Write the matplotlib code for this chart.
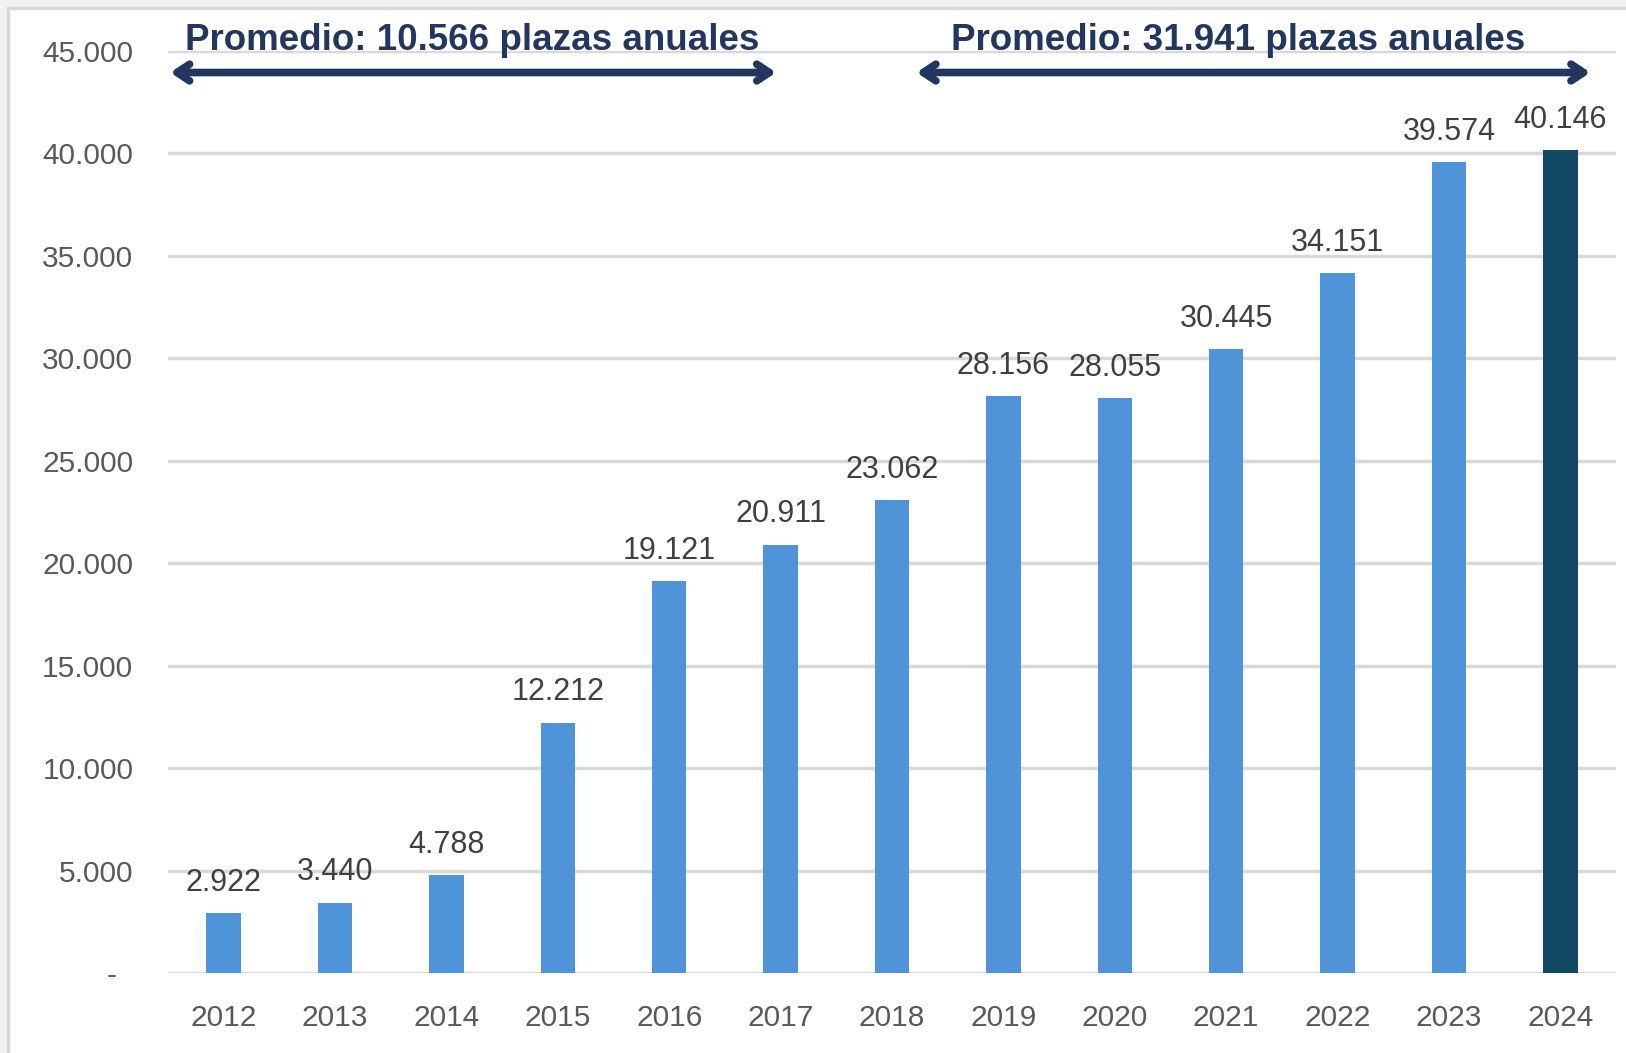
import numpy as np
import matplotlib.pyplot as plt
from matplotlib.patches import Rectangle

plt.rcParams['font.family'] = ['Liberation Sans', 'DejaVu Sans']

# datos
anios = ['2012', '2013', '2014', '2015', '2016', '2017', '2018',
         '2019', '2020', '2021', '2022', '2023', '2024']
plazas = [2922, 3440, 4788, 12212, 19121, 20911, 23062,
          28156, 28055, 30445, 34151, 39574, 40146]
etiquetas = ['2.922', '3.440', '4.788', '12.212', '19.121', '20.911', '23.062',
             '28.156', '28.055', '30.445', '34.151', '39.574', '40.146']
y_ticks = [0, 5000, 10000, 15000, 20000, 25000, 30000, 35000, 40000, 45000]
y_labels = ['-  ', '5.000', '10.000', '15.000', '20.000', '25.000',
            '30.000', '35.000', '40.000', '45.000']
promedios = ['Promedio: 10.566 plazas anuales', 'Promedio: 31.941 plazas anuales']

azul = '#4f94d8'
oscuro = '#124862'
navy = '#22375f'

fig = plt.figure(figsize=(16.26, 10.53), dpi=100)
fig.patch.set_facecolor('#f2f2f2')
# panel blanco con borde
fig.patches.append(Rectangle((8 / 1626, -0.1), 1.2, 1 - 8 / 1053 + 0.1,
                             transform=fig.transFigure, facecolor='white',
                             edgecolor='#d9d9d9', linewidth=2.5, zorder=-5))

ax = fig.add_axes([168 / 1626, 1 - 973 / 1053, (1616 - 168) / 1626, (973 - 51) / 1053])
ax.set_facecolor('none')
ax.set_zorder(2)

x = np.arange(len(anios))
colores = [azul] * (len(anios) - 1) + [oscuro]
ax.bar(x, plazas, width=0.31, color=colores, zorder=3)

for xi, v, t in zip(x, plazas, etiquetas):
    ax.text(xi, v + 750, t, ha='center', va='bottom', fontsize=22, color='#404040')

ax.set_xlim(-0.5, 12.5)
ax.set_ylim(0, 45000)
ax.set_yticks(y_ticks)
ax.set_yticklabels(y_labels, fontsize=21.5, color='#595959')
ax.set_xticks(x)
ax.set_xticklabels(anios, fontsize=21.5, color='#595959')
ax.tick_params(axis='both', length=0)
ax.tick_params(axis='y', pad=25)
ax.tick_params(axis='x', pad=22)
ax.grid(axis='y', color='#d9d9d9', linewidth=2.5, zorder=0)
for s in ax.spines.values():
    s.set_visible(False)

# flechas de promedio
ax.annotate('', xy=(-0.48, 43950), xytext=(4.96, 43950),
            arrowprops=dict(arrowstyle='<->,head_length=0.9,head_width=0.6',
                            color=navy, lw=5.5, capstyle='round',
                            joinstyle='round', shrinkA=0, shrinkB=0),
            annotation_clip=False, zorder=5)
ax.annotate('', xy=(6.22, 43950), xytext=(12.27, 43950),
            arrowprops=dict(arrowstyle='<->,head_length=0.9,head_width=0.6',
                            color=navy, lw=5.5, capstyle='round',
                            joinstyle='round', shrinkA=0, shrinkB=0),
            annotation_clip=False, zorder=5)
ax.text(2.235, 45050, promedios[0], ha='center', va='baseline', fontsize=26.5,
        fontweight='bold', color=navy, clip_on=False, zorder=5)
ax.text(9.11, 45050, promedios[1], ha='center', va='baseline', fontsize=26.5,
        fontweight='bold', color=navy, clip_on=False, zorder=5)

fig.savefig('out.png', dpi=100, facecolor=fig.get_facecolor())
